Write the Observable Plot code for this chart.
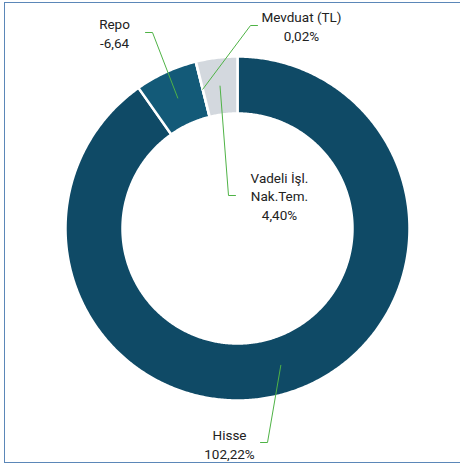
<!DOCTYPE html>
<html><head><meta charset="utf-8">
<script src="https://cdn.jsdelivr.net/npm/d3@7"></script>
<script src="https://cdn.jsdelivr.net/npm/@observablehq/plot@0.6"></script>
<style>
body{margin:0;background:#fff;}
#wrap{position:relative;width:460px;height:466px;overflow:hidden;}
#border{position:absolute;left:4px;top:2px;width:480px;height:461px;border:1.5px solid #5b87b8;box-sizing:border-box;pointer-events:none;}
</style></head><body><div id="wrap"><div id="chart"></div><div id="border"></div></div>
<script>
// ---- data ----
const names = ["Hisse", "Repo", "Mevduat (TL)", "Vadeli İşl. Nak.Tem."];
const values = [102.22, -6.64, 0.02, 4.40];
const valueLabels = ["102,22%", "-6,64", "0,02%", "4,40%"];
const nameLabels = ["Hisse", "Repo", "Mevduat (TL)", "Vadeli İşl.\nNak.Tem."];
const colors = ["#0f4a66", "#135a78", "#c9ced6", "#d3d8de"];

// ---- layout (label placement, pixel offsets from the ring centre) ----
const layout = [
  {elbow: [30, -214], end: [23, -214], text: [-8, -215]},
  {elbow: [-85, 196], end: [-92, 196], text: [-123, 196]},
  {elbow: [13, 203], end: [20, 203], text: [64, 203]},
  {elbow: [-9, 33], end: [-2, 33], text: [42, 33]}
];
const R = 172, r0 = 115, rMid = (R + r0) / 2;

const arcs = d3.pie().sort(null).value(v => Math.abs(v))(values);
const slicePts = [];
arcs.forEach((p, i) => {
  const n = Math.max(2, Math.ceil((p.endAngle - p.startAngle) / (Math.PI / 360)));
  for (let k = 0; k <= n; k++) {
    const a = p.startAngle + (p.endAngle - p.startAngle) * k / n;
    slicePts.push({name: names[i], x: R * Math.sin(a), y: R * Math.cos(a)});
  }
  for (let k = n; k >= 0; k--) {
    const a = p.startAngle + (p.endAngle - p.startAngle) * k / n;
    slicePts.push({name: names[i], x: r0 * Math.sin(a), y: r0 * Math.cos(a)});
  }
});

const leaderPts = [];
const labelRows = [];
arcs.forEach((p, i) => {
  const m = (p.startAngle + p.endAngle) / 2;
  const L = layout[i];
  leaderPts.push({name: names[i], x: rMid * Math.sin(m), y: rMid * Math.cos(m)});
  leaderPts.push({name: names[i], x: L.elbow[0], y: L.elbow[1]});
  leaderPts.push({name: names[i], x: L.end[0], y: L.end[1]});
  labelRows.push({x: L.text[0], y: L.text[1], text: nameLabels[i] + "\n" + valueLabels[i]});
});

const chart = Plot.plot({
  width: 460, height: 466,
  marginTop: 0, marginBottom: 0, marginLeft: 0, marginRight: 0,
  x: {domain: [-237, 223], axis: null},
  y: {domain: [-238, 228], axis: null},
  color: {domain: names, range: colors},
  style: {fontFamily: "Roboto, sans-serif", background: "white"},
  marks: [
    Plot.line(slicePts, {x: "x", y: "y", z: "name", fill: "name", stroke: "white", strokeWidth: 2.5, curve: "linear-closed"}),
    Plot.line(leaderPts, {x: "x", y: "y", z: "name", stroke: "#4fb346", strokeWidth: 1}),
    Plot.text(labelRows, {x: "x", y: "y", text: "text", textAnchor: "middle", lineAnchor: "middle", lineHeight: 1.38, fontSize: 13.5, fill: "#222"})
  ]
});
document.getElementById("chart").appendChild(chart);
</script></body></html>
